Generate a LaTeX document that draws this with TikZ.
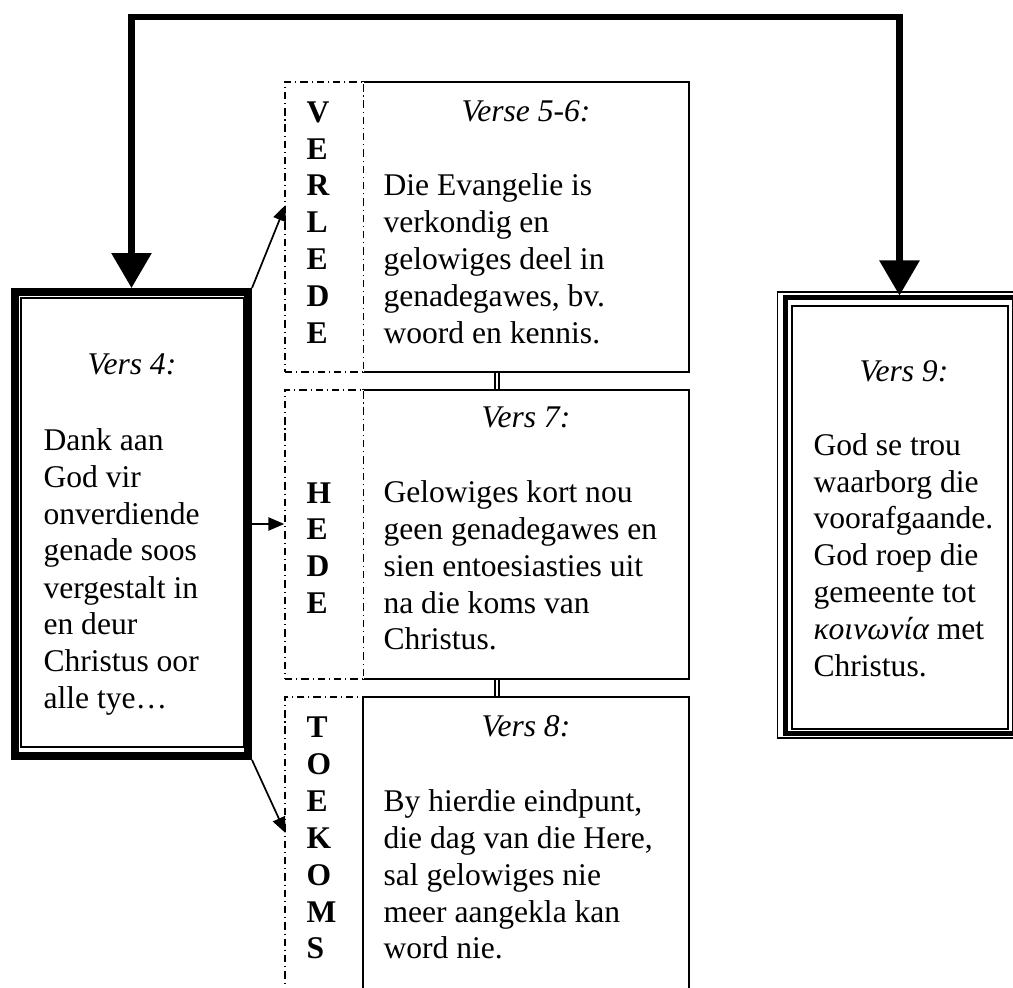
\documentclass[tikz,border=0pt]{standalone}
\usepackage{fontspec}
\setmainfont{Liberation Serif}
\usetikzlibrary{arrows.meta,calc}
\begin{document}
\begin{tikzpicture}[x=0.38pt,y=-0.38pt,
  txt/.style={inner sep=0pt, font=\fontsize{12}{14.06}\selectfont, align=left, anchor=base west},
  head/.style={inner sep=0pt, font=\fontsize{12}{14.06}\selectfont\itshape, anchor=base},
  lbl/.style={inner sep=0pt, font=\fontsize{12}{14.06}\selectfont\bfseries, align=left, anchor=base west},
  box/.style={draw, line width=0.75pt, fill=white, inner sep=0pt},
  lblbox/.style={draw, line width=0.6pt, fill=white, inner sep=0pt, dash pattern=on 2.8pt off 1.5pt on 0.4pt off 1.5pt},
  thinarr/.style={-{Triangle[length=6pt,width=5pt]}, line width=0.65pt},
  bigarr/.style={{Triangle[length=13.3pt,width=14.8pt]}-{Triangle[length=13.3pt,width=14.8pt]}, line width=2.3pt},
  dbl/.style={double, double distance=0.8pt, line width=0.7pt},
  thinline/.style={line width=0.6pt}]
\useasboundingbox (0,0) rectangle (1013,988);
\clip (0,0) rectangle (1013,988);

% left box (Vers 4)
\node[draw, line width=3.04pt, inner sep=0pt, minimum width=88.54pt, minimum height=176.3pt] (v4) at (131.5,524) {};
\draw[thinline] (21,298) rectangle (244,747);
\node[head] (v4h) at (132,375) {Vers 4:};
% anchor = baseline of last line
\node[txt] (v4t) at (43,709) {Dank aan\\God vir\\onverdiende\\genade soos\\vergestalt in\\en deur\\Christus oor\\alle tye…};

% right box (Vers 9)
\draw[thinline] (777.5,292) rectangle (1021,738);
\node[draw, line width=1.9pt, inner sep=0pt, minimum width=87.02pt, minimum height=165.49pt] (v9) at (899.5,515.75) {};
\draw[thinline] (792,306) rectangle (1008,729);
\node[head] (v9h) at (904,382) {Vers 9:};
\node[txt] (v9t) at (813,677) {God se trou\\waarborg die\\voorafgaande.\\God roep die\\gemeente tot\\{\itshape κοινωνία} met\\Christus.};

% middle boxes
\node[box, minimum width=123.88pt, minimum height=110.2pt] (b1) at (526,227) {};
\node[lblbox, minimum width=29.83pt, minimum height=110.2pt] (lb1) at (324.25,227) {};
\node[box, minimum width=123.88pt, minimum height=109.82pt] (b2) at (526,534.5) {};
\node[lblbox, minimum width=29.83pt, minimum height=109.82pt] (lb2) at (324.25,534.5) {};
\node[lblbox, minimum width=29.83pt, minimum height=115.14pt] (lb3) at (324.25,848.5) {};
\node[box, minimum width=123.88pt, minimum height=115.14pt] (b3) at (526,848.5) {};

\node[head] (b1h) at (526,122) {Verse 5-6:};
\node[txt] (b1t) at (383,344) {Die Evangelie is\\verkondig en\\gelowiges deel in\\genadegawes, bv.\\woord en kennis.};
\node[lbl] (l1) at (306,344) {V\\E\\R\\L\\E\\D\\E};

\node[head] (b2h) at (526,428) {Vers 7:};
\node[txt] (b2t) at (383,650) {Gelowiges kort nou\\geen genadegawes en\\sien entoesiasties uit\\na die koms van\\Christus.};
\node[lbl] (l2) at (306,614) {H\\E\\D\\E};

\node[head] (b3h) at (526,737) {Vers 8:};
\node[txt] (b3t) at (383,959) {By hierdie eindpunt,\\die dag van die Here,\\sal gelowiges nie\\meer aangekla kan\\word nie.};
\node[lbl] (l3) at (306,959) {T\\O\\E\\K\\O\\M\\S};

% double links between middle boxes
\draw[dbl] ($(b1.south west)!0.411!(b1.south east)$) -- ($(b2.north west)!0.411!(b2.north east)$);
\draw[dbl] ($(b2.south west)!0.411!(b2.south east)$) -- ($(b3.north west)!0.411!(b3.north east)$);

% arrows from Vers 4
\coordinate (t1) at (285.5,205);
\coordinate (t3) at (285.5,833);
\draw[thinarr] (v4.north east) -- (t1);
\draw[thinarr] (v4.east) -- (v4.east -| lb2.west);
\draw[thinarr] (v4.south east) -- (t3);

% top connector
\coordinate (top) at (0,17);
\draw[bigarr] (v4.north) -- (v4.north |- top) -- (v9.north |- top) -- (v9.north);
\end{tikzpicture}
\end{document}
